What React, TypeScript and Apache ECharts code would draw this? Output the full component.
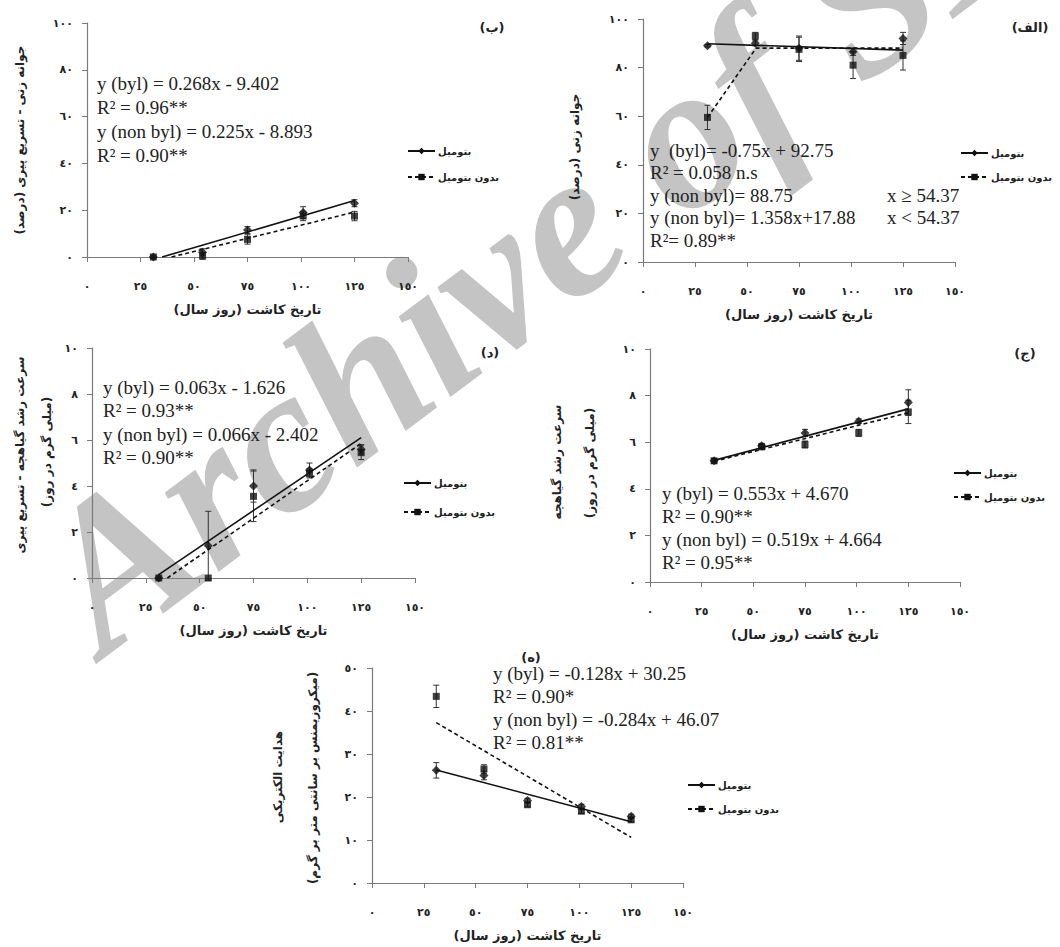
import React, { useEffect, useRef } from 'react';
import * as echarts from 'echarts';

// ---------- data ----------
const DAYS = [31, 54, 75, 101, 125];
const X_TICKS = [0, 25, 50, 75, 100, 125, 150];
const X_TICK_LABELS = ['٠', '٢٥', '٥٠', '٧٥', '١٠٠', '١٢٥', '١٥٠'];
const Y100_TICKS = [0, 20, 40, 60, 80, 100];
const Y100_LABELS = ['٠', '٢٠', '٤٠', '٦٠', '٨٠', '١٠٠'];
const Y10_TICKS = [0, 2, 4, 6, 8, 10];
const Y10_LABELS = ['٠', '٢', '٤', '٦', '٨', '١٠'];
const Y50_TICKS = [0, 10, 20, 30, 40, 50];
const Y50_LABELS = ['٠', '١٠', '٢٠', '٣٠', '٤٠', '٥٠'];

const BYL = 'بتومیل';
const NON = 'بدون بتومیل';
const X_TITLE = '\u200Fتاریخ کاشت (روز سال)\u200F';

// (ب) germination after accelerated ageing (%)
const B_BYL = [0, 2, 11.5, 19, 23];
const B_NON = [0, 0.5, 7.5, 17.5, 17.5];
const B_BYL_ERR = [0, 1.5, 1.5, 2.5, 1.5];
const B_NON_ERR = [0, 1.5, 2, 2, 2];
const B_BYL_TREND = [[35.1, 0], [125, 24.1]];
const B_NON_TREND = [[39.5, 0], [125, 19.2]];
const B_EQ = ['y (byl) = 0.268x - 9.402', 'R² = 0.96**', 'y (non byl) = 0.225x - 8.893', 'R² = 0.90**'];

// (الف) germination (%)
const A_BYL = [89, 90, 88, 86.5, 92];
const A_NON = [59.5, 93, 87.5, 81, 85];
const A_BYL_ERR = [0.5, 1, 5, 1.5, 2.5];
const A_NON_ERR = [5, 1.5, 5, 5.5, 6];
const A_BYL_TREND = [[31, 89.8], [125, 87.2]];
const A_NON_TREND = [[31, 59.5], [54.37, 88], [125, 88]];
const A_EQ = ['y  (byl)= -0.75x + 92.75', 'R² = 0.058 n.s', 'y (non byl)= 88.75', 'y (non byl)= 1.358x+17.88', 'R²= 0.89**'];
const A_EQ_COND = ['x ≥ 54.37', 'x < 54.37'];

// (د) seedling growth rate after ageing (mg/day)
const D_BYL = [0, 1.4, 4.0, 4.7, 5.6];
const D_NON = [0, 0, 3.55, 4.55, 5.45];
const D_BYL_ERR = [0, 1.5, 0.7, 0.3, 0.2];
const D_NON_ERR = [0, 0, 1.1, 0.2, 0.3];
const D_BYL_TREND = [[31, 0.15], [125, 6.1]];
const D_NON_TREND = [[35, 0], [125, 5.85]];
const D_EQ = ['y (byl) = 0.063x - 1.626', 'R² = 0.93**', 'y (non byl) = 0.066x - 2.402', 'R² = 0.90**'];

// (ج) seedling growth rate (mg/day)
const C_BYL = [5.2, 5.85, 6.4, 6.9, 7.7];
const C_NON = [5.2, 5.8, 5.9, 6.4, 7.3];
const C_BYL_ERR = [0.1, 0.1, 0.15, 0.1, 0.55];
const C_NON_ERR = [0.1, 0.1, 0.15, 0.15, 0.5];
const C_BYL_TREND = [[31, 5.22], [125, 7.43]];
const C_NON_TREND = [[31, 5.18], [125, 7.26]];
const C_EQ = ['y (byl) = 0.553x + 4.670', 'R² = 0.90**', 'y (non byl) = 0.519x + 4.664', 'R² = 0.95**'];

// (ه) electrical conductivity
const E_BYL = [26.2, 25.0, 19.2, 17.8, 15.5];
const E_NON = [43.4, 26.5, 18.2, 16.7, 14.7];
const E_BYL_ERR = [1.8, 1, 0.5, 0.5, 0.5];
const E_NON_ERR = [2.6, 1, 0.5, 0.5, 0.5];
const E_BYL_TREND = [[31, 26.3], [125, 14.25]];
const E_NON_TREND = [[31, 37.3], [125, 10.6]];
const E_EQ = ['y (byl) = -0.128x + 30.25', 'R² = 0.90*', 'y (non byl) = -0.284x + 46.07', 'R² = 0.81**'];

const WATERMARK = 'Archive of SID';

// ---------- layout ----------
const FA = "'DejaVu Sans', 'Noto Sans', sans-serif";
const SERIF = "'Liberation Serif', 'DejaVu Serif', serif";

const PANELS = [
  {
    label: '(ب)', labelPos: [492, 27],
    grid: { left: 87, top: 23, width: 321, height: 234 },
    yMax: 100, yInt: 20, yTicks: Y100_TICKS, yLabels: Y100_LABELS,
    byl: B_BYL, non: B_NON, bylErr: B_BYL_ERR, nonErr: B_NON_ERR, bylTrend: B_BYL_TREND, nonTrend: B_NON_TREND,
    legend: { left: 407, top: 146, itemGap: 16 },
    titles: [{ text: '\u200Fجوانه زنی - تسریع پیری (درصد)\u200F', x: 20, y: 140 }],
    eq: { x: 97, y0: 83, dy: 24, lines: B_EQ },
  },
  {
    label: '(الف)', labelPos: [1030, 27],
    grid: { left: 643, top: 19, width: 312, height: 243 },
    yMax: 100, yInt: 20, yTicks: Y100_TICKS, yLabels: Y100_LABELS,
    byl: A_BYL, non: A_NON, bylErr: A_BYL_ERR, nonErr: A_NON_ERR, bylTrend: A_BYL_TREND, nonTrend: A_NON_TREND,
    legend: { left: 960, top: 148, itemGap: 14 },
    titles: [{ text: '\u200Fجوانه زنی (درصد)\u200F', x: 575, y: 147 }],
    eq: { x: 650, y0: 150, dy: 22.5, lines: A_EQ, cond: { x: 887, rows: [2, 3], lines: A_EQ_COND } },
  },
  {
    label: '(د)', labelPos: [490, 352],
    grid: { left: 92, top: 348, width: 323, height: 230 },
    yMax: 10, yInt: 2, yTicks: Y10_TICKS, yLabels: Y10_LABELS,
    byl: D_BYL, non: D_NON, bylErr: D_BYL_ERR, nonErr: D_NON_ERR, bylTrend: D_BYL_TREND, nonTrend: D_NON_TREND,
    legend: { left: 403, top: 478, itemGap: 19 },
    titles: [
      { text: '\u200Fسرعت رشد گیاهچه - تسریع پیری\u200F', x: 20, y: 455 },
      { text: '\u200F(میلی گرم در روز)\u200F', x: 47, y: 452 },
    ],
    eq: { x: 103, y0: 387, dy: 23.5, lines: D_EQ },
  },
  {
    label: '(ج)', labelPos: [1025, 353],
    grid: { left: 650, top: 349, width: 310, height: 233 },
    yMax: 10, yInt: 2, yTicks: Y10_TICKS, yLabels: Y10_LABELS,
    byl: C_BYL, non: C_NON, bylErr: C_BYL_ERR, nonErr: C_NON_ERR, bylTrend: C_BYL_TREND, nonTrend: C_NON_TREND,
    legend: { left: 953, top: 468, itemGap: 14 },
    titles: [
      { text: '\u200Fسرعت رشد گیاهچه\u200F', x: 557, y: 462 },
      { text: '\u200F(میلی گرم در روز)\u200F', x: 590, y: 463 },
    ],
    eq: { x: 662, y0: 493, dy: 23.3, lines: C_EQ },
  },
  {
    label: '(ه)', labelPos: [531, 657],
    grid: { left: 372, top: 668, width: 311, height: 215 },
    yMax: 50, yInt: 10, yTicks: Y50_TICKS, yLabels: Y50_LABELS,
    byl: E_BYL, non: E_NON, bylErr: E_BYL_ERR, nonErr: E_NON_ERR, bylTrend: E_BYL_TREND, nonTrend: E_NON_TREND,
    legend: { left: 687, top: 780, itemGap: 14 },
    titles: [
      { text: '\u200Fهدایت الکتریکی\u200F', x: 278, y: 777 },
      { text: '\u200F(میکروزیمنس بر سانتی متر بر گرم)\u200F', x: 313, y: 778 },
    ],
    eq: { x: 493, y0: 673, dy: 23.3, lines: E_EQ },
  },
];

const AXIS_COLOR = '#7a7a7a';
const INK = '#111';

function errorBarRender(params: any, api: any) {
  const x = api.value(0);
  const lo = api.coord([x, api.value(1)]);
  const hi = api.coord([x, api.value(2)]);
  const w = 3;
  const st = { stroke: '#333', lineWidth: 1 };
  return {
    type: 'group',
    children: [
      { type: 'line', shape: { x1: lo[0], y1: lo[1], x2: hi[0], y2: hi[1] }, style: st },
      { type: 'line', shape: { x1: lo[0] - w, y1: lo[1], x2: lo[0] + w, y2: lo[1] }, style: st },
      { type: 'line', shape: { x1: hi[0] - w, y1: hi[1], x2: hi[0] + w, y2: hi[1] }, style: st },
    ],
  };
}

function buildOption() {
  const grid: any[] = [];
  const xAxis: any[] = [];
  const yAxis: any[] = [];
  const legend: any[] = [];
  const lineSeries: any[] = [];
  const otherSeries: any[] = [];
  const graphic: any[] = [];

  // watermark
  graphic.push({
    type: 'text', x: 125, y: 685, rotation: (37 * Math.PI) / 180, z: -10, silent: true,
    style: {
      text: WATERMARK, fill: '#c4c4c4', font: `italic bold 208px ${SERIF}`,
      align: 'left', verticalAlign: 'bottom',
    },
  });

  PANELS.forEach((p, i) => {
    grid.push({ ...p.grid, containLabel: false });
    xAxis.push({
      type: 'value', gridIndex: i, min: 0, max: 150, interval: 25,
      name: X_TITLE, nameLocation: 'middle', nameGap: 46,
      nameTextStyle: { fontFamily: FA, fontSize: 13, fontWeight: 'bold', color: '#222' },
      axisLine: { show: true, onZero: false, lineStyle: { color: AXIS_COLOR, width: 1.2 } },
      axisTick: { show: true, inside: false, length: 5, lineStyle: { color: AXIS_COLOR } },
      axisLabel: {
        margin: 24, fontFamily: FA, fontSize: 11, fontWeight: 'bold', color: '#222',
        formatter: (v: number) => X_TICK_LABELS[X_TICKS.indexOf(v)] ?? '',
      },
      splitLine: { show: false },
    });
    yAxis.push({
      type: 'value', gridIndex: i, min: 0, max: p.yMax, interval: p.yInt,
      axisLine: { show: true, onZero: false, lineStyle: { color: AXIS_COLOR, width: 1.2 } },
      axisTick: { show: true, inside: false, length: 5, lineStyle: { color: AXIS_COLOR } },
      axisLabel: {
        margin: 14, fontFamily: FA, fontSize: 11, fontWeight: 'bold', color: '#222',
        formatter: (v: number) => p.yLabels[p.yTicks.indexOf(v)] ?? '',
      },
      splitLine: { show: false },
    });
    legend.push({
      orient: 'vertical', left: p.legend.left, top: p.legend.top, itemGap: p.legend.itemGap,
      itemWidth: 27, itemHeight: 8, padding: 0, selectedMode: false,
      textStyle: { fontFamily: FA, fontSize: 10, fontWeight: 'bold', color: '#222', padding: [0, 0, 0, -2] },
      data: [BYL, NON],
    });

    lineSeries.push({
      name: BYL, type: 'line', xAxisIndex: i, yAxisIndex: i, data: p.bylTrend,
      symbol: 'diamond', symbolSize: 8, showSymbol: false, silent: true, z: 3,
      lineStyle: { color: INK, width: 1.6, type: 'solid' }, itemStyle: { color: INK },
    });
    lineSeries.push({
      name: NON, type: 'line', xAxisIndex: i, yAxisIndex: i, data: p.nonTrend,
      symbol: 'rect', symbolSize: 7, showSymbol: false, silent: true, z: 3,
      lineStyle: { color: INK, width: 1.6, type: [4, 3] }, itemStyle: { color: INK },
    });

    const bylErrData = DAYS.map((d, k) => [d, p.byl[k] - p.bylErr[k], p.byl[k] + p.bylErr[k]]).filter((_, k) => p.bylErr[k] > 0);
    const nonErrData = DAYS.map((d, k) => [d, p.non[k] - p.nonErr[k], p.non[k] + p.nonErr[k]]).filter((_, k) => p.nonErr[k] > 0);
    otherSeries.push({
      name: 'err-byl-' + i, type: 'custom', xAxisIndex: i, yAxisIndex: i, renderItem: errorBarRender,
      data: bylErrData, silent: true, z: 2,
    });
    otherSeries.push({
      name: 'err-non-' + i, type: 'custom', xAxisIndex: i, yAxisIndex: i, renderItem: errorBarRender,
      data: nonErrData, silent: true, z: 2,
    });
    otherSeries.push({
      name: 'pts-byl-' + i, type: 'scatter', xAxisIndex: i, yAxisIndex: i,
      data: DAYS.map((d, k) => [d, p.byl[k]]), symbol: 'diamond', symbolSize: 9,
      itemStyle: { color: INK }, silent: true, z: 4,
    });
    otherSeries.push({
      name: 'pts-non-' + i, type: 'scatter', xAxisIndex: i, yAxisIndex: i,
      data: DAYS.map((d, k) => [d, p.non[k]]), symbol: 'rect', symbolSize: 7,
      itemStyle: { color: INK }, silent: true, z: 4,
    });

    // panel label
    graphic.push({
      type: 'text', x: p.labelPos[0], y: p.labelPos[1], silent: true,
      style: { text: p.label, fill: '#222', font: `bold 13px ${FA}`, align: 'center', verticalAlign: 'middle' },
    });
    // y titles
    p.titles.forEach((t) => {
      graphic.push({
        type: 'text', x: t.x, y: t.y, rotation: Math.PI / 2, silent: true,
        style: { text: t.text, fill: '#222', font: `bold 12px ${FA}`, align: 'center', verticalAlign: 'middle' },
      });
    });
    // equations
    p.eq.lines.forEach((line, k) => {
      graphic.push({
        type: 'text', x: p.eq.x, y: p.eq.y0 + k * p.eq.dy, silent: true,
        style: { text: line, fill: '#222', font: `19px ${SERIF}`, align: 'left', verticalAlign: 'middle' },
      });
    });
    const cond = (p.eq as any).cond;
    if (cond) {
      cond.lines.forEach((line: string, k: number) => {
        graphic.push({
          type: 'text', x: cond.x, y: p.eq.y0 + cond.rows[k] * p.eq.dy, silent: true,
          style: { text: line, fill: '#222', font: `19px ${SERIF}`, align: 'left', verticalAlign: 'middle' },
        });
      });
    }
  });

  return {
    animation: false,
    backgroundColor: '#ffffff',
    grid, xAxis, yAxis, legend, graphic,
    series: [...lineSeries, ...otherSeries],
  };
}

export default function App() {
  const ref = useRef<HTMLDivElement>(null);
  useEffect(() => {
    if (!ref.current) return;
    const chart = echarts.init(ref.current, undefined, { renderer: 'svg' });
    chart.setOption(buildOption() as any);
    return () => chart.dispose();
  }, []);
  return (
    <div
      ref={ref}
      style={{ position: 'absolute', left: 0, top: 0, width: 1060, height: 947, background: '#fff' }}
    />
  );
}
